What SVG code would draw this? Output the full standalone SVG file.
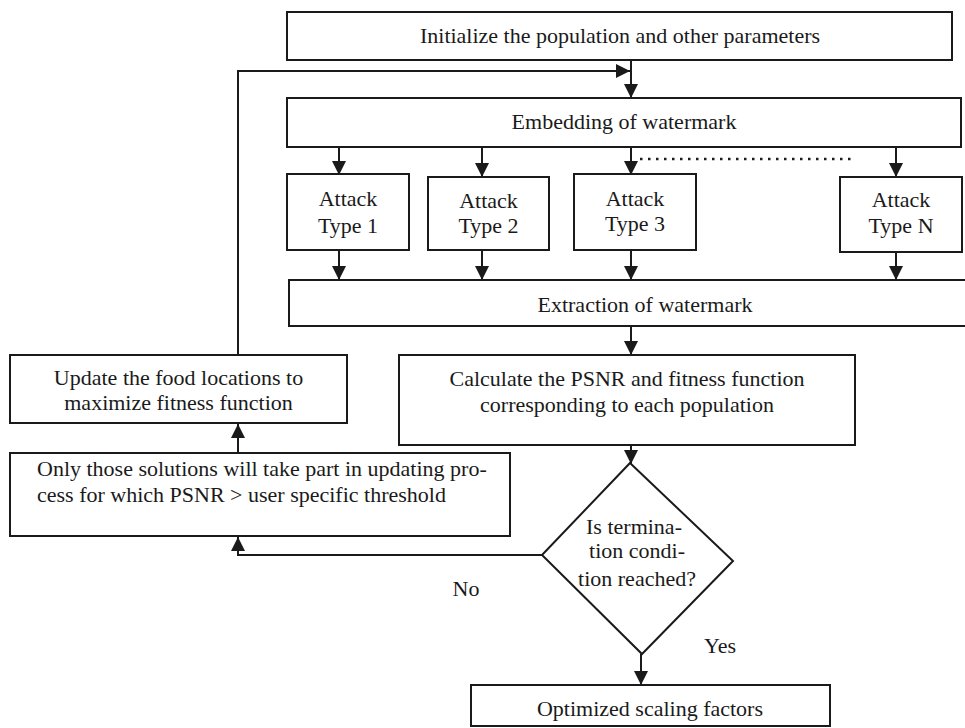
<svg xmlns="http://www.w3.org/2000/svg" width="965" height="728" viewBox="0 0 965 728">
<defs>
<style>
.box{fill:#fff;stroke:#1a1a1a;stroke-width:2}
.ln{fill:none;stroke:#1a1a1a;stroke-width:2}
.t{font-family:"Liberation Serif","Times New Roman",serif;font-size:22px;fill:#1a1a1a;text-anchor:middle}
.tl{font-family:"Liberation Serif","Times New Roman",serif;font-size:22px;fill:#1a1a1a;text-anchor:start}
.dot{fill:none;stroke:#1a1a1a;stroke-width:2.5;stroke-dasharray:2.5 5.5}
</style>
<marker id="ah" markerUnits="userSpaceOnUse" markerWidth="15" markerHeight="15" refX="14" refY="7" orient="auto">
<path d="M0,0 L14,7 L0,14 z" fill="#1a1a1a"/>
</marker>
</defs>
<rect width="965" height="728" fill="#fff"/>
<g id="connectors">
<path class="ln" d="M631,60 V98" marker-end="url(#ah)"/>
<path class="ln" d="M238,355 V71 H630" marker-end="url(#ah)"/>
<path class="ln" d="M339,147 V175" marker-end="url(#ah)"/>
<path class="ln" d="M482,147 V177" marker-end="url(#ah)"/>
<path class="ln" d="M631,147 V175" marker-end="url(#ah)"/>
<path class="ln" d="M896,147 V177" marker-end="url(#ah)"/>
<path class="dot" d="M640,159 H855"/>
<path class="ln" d="M339,250 V280" marker-end="url(#ah)"/>
<path class="ln" d="M482,250 V280" marker-end="url(#ah)"/>
<path class="ln" d="M631,250 V280" marker-end="url(#ah)"/>
<path class="ln" d="M896,252 V280" marker-end="url(#ah)"/>
<path class="ln" d="M631,326 V355" marker-end="url(#ah)"/>
<path class="ln" d="M631,445 V464" marker-end="url(#ah)"/>
<path class="ln" d="M641,654 V685" marker-end="url(#ah)"/>
<path class="ln" d="M542,555 H238 V537" marker-end="url(#ah)"/>
<path class="ln" d="M238,453 V424" marker-end="url(#ah)"/>
<text class="t" x="466" y="596">No</text>
<text class="t" x="720" y="653">Yes</text>
</g>
<g id="init">
<rect class="box" x="287" y="12" width="665" height="48"/>
<text class="t" x="620" y="43">Initialize the population and other parameters</text>
</g>
<g id="embed">
<rect class="box" x="287" y="98" width="674" height="49"/>
<text class="t" x="624" y="129">Embedding of watermark</text>
</g>
<g id="attack1">
<rect class="box" x="287" y="174" width="122" height="76"/>
<text class="t" x="348" y="206">Attack</text>
<text class="t" x="348" y="233">Type 1</text>
</g>
<g id="attack2">
<rect class="box" x="428" y="177" width="121" height="73"/>
<text class="t" x="488.5" y="208">Attack</text>
<text class="t" x="488.5" y="233">Type 2</text>
</g>
<g id="attack3">
<rect class="box" x="574" y="174" width="122" height="76"/>
<text class="t" x="635" y="206">Attack</text>
<text class="t" x="635" y="231">Type 3</text>
</g>
<g id="attackN">
<rect class="box" x="840" y="177" width="122" height="75"/>
<text class="t" x="901" y="207">Attack</text>
<text class="t" x="901" y="233">Type N</text>
</g>
<g id="extract">
<rect class="box" x="289" y="280" width="690" height="46"/>
<text class="t" x="645" y="312">Extraction of watermark</text>
</g>
<g id="update">
<rect class="box" x="10" y="355" width="337" height="68"/>
<text class="t" x="178.5" y="385">Update the food locations to</text>
<text class="t" x="178.5" y="410">maximize fitness function</text>
</g>
<g id="calculate">
<rect class="box" x="399" y="355" width="456" height="90"/>
<text class="t" x="627" y="386">Calculate the PSNR and fitness function</text>
<text class="t" x="627" y="412">corresponding to each population</text>
</g>
<g id="only">
<rect class="box" x="10" y="453" width="500" height="83"/>
<text class="tl" x="37" y="476">Only those solutions will take part in updating pro-</text>
<text class="tl" x="37" y="502">cess for which PSNR &gt; user specific threshold</text>
</g>
<g id="decision">
<polygon class="box" points="630,463 733,561 642,654 542,555"/>
<text class="t" x="634" y="534">Is termina-</text>
<text class="t" x="637" y="558">tion condi-</text>
<text class="t" x="637" y="586">tion reached?</text>
</g>
<g id="optimized">
<rect class="box" x="471" y="685" width="359" height="41"/>
<text class="t" x="650" y="716">Optimized scaling factors</text>
</g>
</svg>
